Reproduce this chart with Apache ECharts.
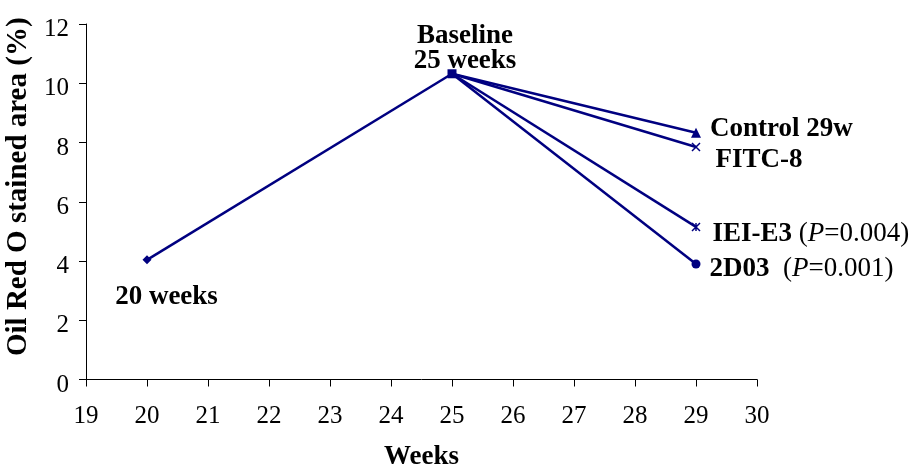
<!DOCTYPE html>
<html><head><meta charset="utf-8">
<script src="https://cdn.jsdelivr.net/npm/echarts@6/dist/echarts.min.js"></script>
<style>html,body{margin:0;padding:0;background:#fff}#c{width:912px;height:464px}</style>
</head><body><div id="c"></div>
<script>
const xTicks = [19,20,21,22,23,24,25,26,27,28,29,30];
const yTicks = [0,2,4,6,8,10,12];
const startWeeks = [20, 25];
const startValues = [4.04, 10.32];
const groupNames = ['Control 29w', 'FITC-8', 'IEI-E3', '2D03'];
const endWeek = 29;
const endValues = [8.33, 7.85, 5.15, 3.9];
const pValues = [null, null, '0.004', '0.001'];

const NAVY = '#000080';
const FONT = 'Liberation Serif';
const crossPath = 'path://M0,0L10,10M10,0L0,10';
const starPath = 'path://M0,0L10,10M10,0L0,10M5,0L5,10';

const chart = echarts.init(document.getElementById('c'));
const FS = 27;
const rich = {
  b: {fontFamily: FONT, fontWeight: 'bold', fontSize: FS, color: '#000'},
  n: {fontFamily: FONT, fontSize: FS, color: '#000'},
  i: {fontFamily: FONT, fontStyle: 'italic', fontSize: FS, color: '#000'},
  t: {fontFamily: FONT, fontWeight: 'bold', fontSize: FS, color: '#000', lineHeight: 25}
};
const endSymbols = [
  {symbol: 'triangle', symbolSize: 10, itemStyle: {color: NAVY}},
  {symbol: crossPath, symbolSize: 8, itemStyle: {color: 'none', borderColor: NAVY, borderWidth: 1.5}},
  {symbol: starPath, symbolSize: 8, itemStyle: {color: 'none', borderColor: NAVY, borderWidth: 1.5}},
  {symbol: 'circle', symbolSize: 9, itemStyle: {color: NAVY}}
];
const labelOffsets = [[4, -4], [8, 13], [5, 7], [4, 5]];
function labelText(i) {
  if (pValues[i] === null) return '{b|' + groupNames[i] + '}';
  const gap = i === 3 ? '  ' : ' ';
  return '{b|' + groupNames[i] + '}{n|' + gap + '(}{i|P}{n|=' + pValues[i] + ')}';
}
const series = [{
  type: 'line',
  data: [
    {value: [startWeeks[0], startValues[0]], symbol: 'diamond', symbolSize: 9,
     label: {show: true, position: 'bottom', offset: [19.5, 14], formatter: '{b|20 weeks}', rich}},
    {value: [startWeeks[1], startValues[1]], symbol: 'rect', symbolSize: 9,
     label: {show: true, position: 'top', offset: [13, 9], formatter: '{t|Baseline}\n{t|25 weeks}', rich}}
  ],
  lineStyle: {color: NAVY, width: 2.5},
  itemStyle: {color: NAVY},
  z: 3
}];
groupNames.forEach((g, i) => {
  series.push({
    type: 'line',
    data: [
      {value: [startWeeks[1], startValues[1]], symbol: 'none'},
      Object.assign({value: [endWeek, endValues[i]],
        label: {show: true, position: 'right', offset: labelOffsets[i], formatter: labelText(i), rich}}, endSymbols[i])
    ],
    lineStyle: {color: NAVY, width: 2.5},
    itemStyle: {color: NAVY},
    showAllSymbol: true
  });
});
chart.setOption({
  animation: false,
  backgroundColor: '#fff',
  grid: {left: 86, right: 155, top: 24, bottom: 84.5, containLabel: false, outerBoundsMode: 'none'},
  xAxis: {
    type: 'value', min: 19, max: 30, interval: 1,
    name: 'Weeks', nameLocation: 'middle', nameGap: 64,
    nameTextStyle: {fontFamily: FONT, fontWeight: 'bold', fontSize: 27, color: '#000'},
    axisLine: {lineStyle: {color: '#000', width: 1}},
    axisTick: {show: true, inside: false, length: 7, lineStyle: {color: '#000'}},
    axisLabel: {fontFamily: FONT, fontSize: 25, color: '#000', margin: 24,
      formatter: v => xTicks.includes(v) ? String(v) : ''},
    splitLine: {show: false}
  },
  yAxis: {
    type: 'value', min: 0, max: 12, interval: 2,
    name: 'Oil Red O stained area (%)', nameLocation: 'middle', nameGap: 37,
    nameTextStyle: {fontFamily: FONT, fontWeight: 'bold', fontSize: 29, color: '#000', padding: [0, 0, 0, 30]},
    axisLine: {show: true, lineStyle: {color: '#000', width: 1}},
    axisTick: {show: true, inside: false, length: 7, lineStyle: {color: '#000'}},
    axisLabel: {fontFamily: FONT, fontSize: 25, color: '#000', margin: 17,
      verticalAlign: 'top', lineHeight: 11,
      formatter: v => yTicks.includes(v) ? String(v) : ''},
    splitLine: {show: false}
  },
  series
});
</script></body></html>
